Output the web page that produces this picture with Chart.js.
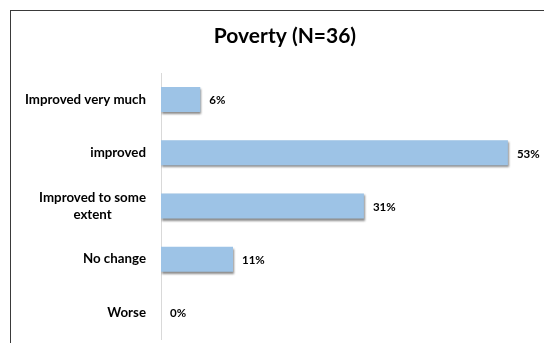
<!DOCTYPE html>
<html>
<head>
<meta charset="utf-8">
<script src="https://cdn.jsdelivr.net/npm/chart.js@4/dist/chart.umd.min.js"></script>
<style>
html,body{margin:0;padding:0;background:#fff;}
canvas{display:block;}
</style>
</head>
<body>
<canvas id="c" width="544" height="343"></canvas>
<script>
const categories = ["Improved very much", "improved", ["Improved to some", "extent"], "No change", "Worse"];
const values = [6, 53, 31, 11, 0];
const valueLabels = ["6%", "53%", "31%", "11%", "0%"];
const chartTitle = "Poverty (N=36)";

const FONT = "Lato, 'Open Sans', sans-serif";

const decor = {
  id: 'decor',
  beforeDraw(chart) {
    const ctx = chart.ctx;
    ctx.save();
    ctx.fillStyle = '#fff';
    ctx.fillRect(0, 0, chart.width, chart.height);
    ctx.strokeStyle = '#3a3a3a';
    ctx.lineWidth = 1;
    ctx.strokeRect(10.5, 10.5, 700, 500);
    ctx.fillStyle = '#000';
    ctx.font = "bold 21px " + FONT;
    ctx.textAlign = 'center';
    ctx.textBaseline = 'middle';
    ctx.fillText(chartTitle, 285, 36);
    ctx.restore();
  },
  beforeDatasetDraw(chart) {
    const ctx = chart.ctx;
    ctx.save();
    ctx.shadowColor = 'rgba(0,0,0,0.45)';
    ctx.shadowOffsetX = 1;
    ctx.shadowOffsetY = 2;
    ctx.shadowBlur = 2;
  },
  afterDatasetDraw(chart) {
    chart.ctx.restore();
  },
  afterDraw(chart) {
    const ctx = chart.ctx;
    const ys = chart.scales.y;
    const xs = chart.scales.x;
    ctx.save();
    ctx.fillStyle = '#000';
    ctx.font = "bold 13.3px " + FONT;
    ctx.textBaseline = 'middle';
    categories.forEach((lab, i) => {
      const y = ys.getPixelForValue(i);
      if (Array.isArray(lab)) {
        const w = Math.max(...lab.map(l => ctx.measureText(l).width));
        const cx = 146 - w / 2;
        ctx.textAlign = 'center';
        const lh = 17;
        lab.forEach((l, k) => {
          ctx.fillText(l, cx, y + (k - (lab.length - 1) / 2) * lh);
        });
      } else {
        ctx.textAlign = 'right';
        ctx.fillText(lab, 146, y);
      }
    });
    ctx.font = "bold 11.5px " + FONT;
    ctx.textAlign = 'left';
    values.forEach((v, i) => {
      const x = xs.getPixelForValue(v) + 9;
      const y = ys.getPixelForValue(i);
      ctx.fillText(valueLabels[i], x, y + 1);
    });
    ctx.restore();
  }
};

new Chart(document.getElementById('c'), {
  type: 'bar',
  data: {
    labels: categories,
    datasets: [{
      data: values,
      backgroundColor: '#9DC3E6',
      borderWidth: 0,
      categoryPercentage: 1,
      barPercentage: 0.47
    }]
  },
  options: {
    indexAxis: 'y',
    responsive: false,
    animation: false,
    layout: { padding: { left: 161, top: 73, bottom: 4, right: 23 } },
    plugins: { legend: { display: false }, tooltip: { enabled: false }, title: { display: false } },
    scales: {
      x: { display: false, min: 0, max: 55 },
      y: {
        grid: { display: false },
        border: { display: true, color: '#D9D9D9', width: 1 },
        ticks: { display: false },
        afterFit: s => { s.width = 0; }
      }
    }
  },
  plugins: [decor]
});
</script>
</body>
</html>
